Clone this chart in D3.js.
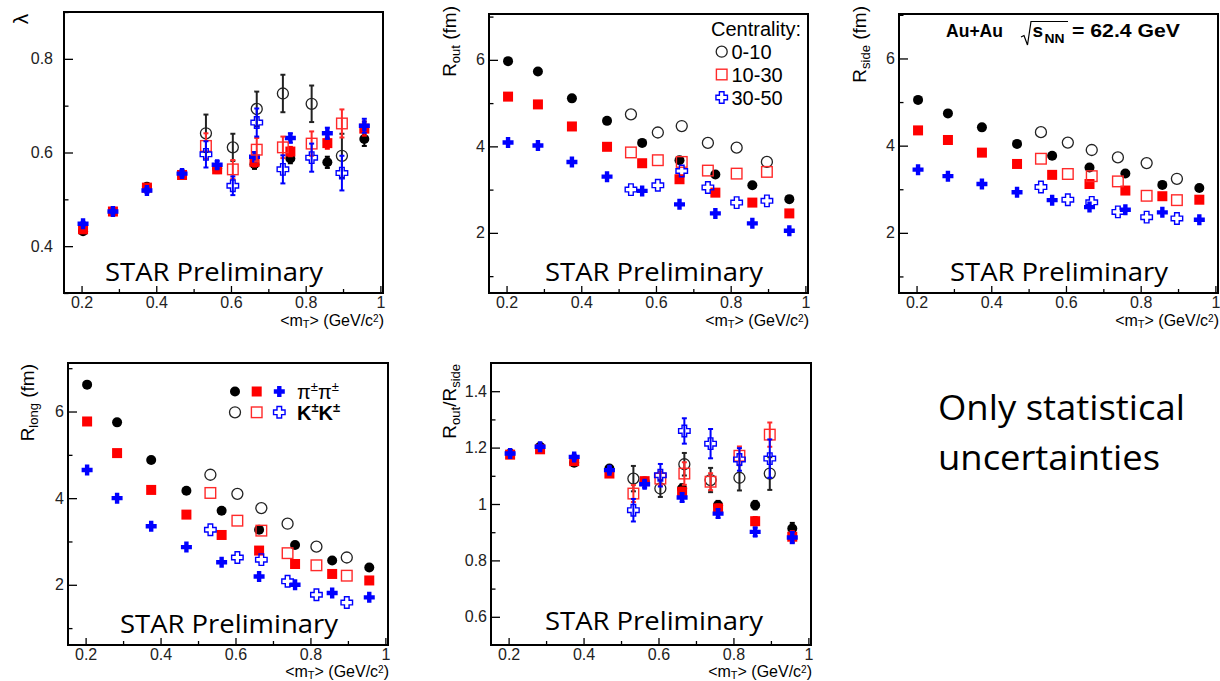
<!DOCTYPE html>
<html>
<head>
<meta charset="utf-8">
<script src="https://cdn.jsdelivr.net/npm/d3@7"></script>
<style>
    body { margin: 0; background: #fff; }
    svg { display: block; }
    .tick text { font-family: "Liberation Sans", Arial, sans-serif; font-size: 16px; fill: #222; }
    .tick line { stroke: #000; stroke-width: 1.3; }
    .root-text { font-family: "Liberation Sans", Arial, sans-serif; fill: #000; }
    .slide-text { font-family: "Open Sans", "Noto Sans", sans-serif; fill: #000; }
</style>
</head>
<body>
<svg id="chart" width="1220" height="681"></svg>
<script>
// <m_T> bins (GeV/c^2)
const mtPi = [0.204, 0.284, 0.375, 0.469, 0.563, 0.663, 0.759, 0.858, 0.957];
const mtK = [0.533, 0.605, 0.669, 0.739, 0.816, 0.897];

// lambda
const lamPi010 = [0.432, 0.474, 0.527, 0.554, 0.566, 0.575, 0.587, 0.579, 0.629];
const lamPi1030 = [0.436, 0.474, 0.525, 0.552, 0.564, 0.580, 0.602, 0.620, 0.651];
const lamPi3050 = [0.448, 0.474, 0.519, 0.555, 0.574, 0.591, 0.631, 0.641, 0.657];
const lamPiErr = [0.004, 0.004, 0.005, 0.006, 0.008, 0.010, 0.010, 0.012, 0.015];
const lamK010 = [0.641, 0.611, 0.693, 0.726, 0.704, 0.593];
const lamK1030 = [0.614, 0.564, 0.606, 0.611, 0.619, 0.662];
const lamK3050 = [0.596, 0.529, 0.664, 0.564, 0.589, 0.556];
const lamK010Err = [0.040, 0.029, 0.037, 0.040, 0.039, 0.047];
const lamK1030Err = [0.027, 0.020, 0.025, 0.023, 0.026, 0.030];
const lamK3050Err = [0.028, 0.020, 0.030, 0.030, 0.030, 0.037];

// R_out (fm)
const outPi010 = [5.97, 5.73, 5.11, 4.59, 4.08, 3.68, 3.35, 3.10, 2.78];
const outPi1030 = [5.15, 4.97, 4.46, 3.99, 3.61, 3.24, 2.93, 2.70, 2.45];
const outPi3050 = [4.09, 4.02, 3.64, 3.30, 2.97, 2.66, 2.45, 2.22, 2.05];
const outK010 = [4.74, 4.32, 4.47, 4.08, 3.97, 3.64];
const outK1030 = [3.86, 3.68, 3.64, 3.44, 3.37, 3.41];
const outK3050 = [3.00, 3.10, 3.43, 3.05, 2.70, 2.74];

// R_side (fm)
const sidePi010 = [5.05, 4.74, 4.42, 4.04, 3.77, 3.50, 3.36, 3.10, 3.03];
const sidePi1030 = [4.35, 4.13, 3.84, 3.58, 3.33, 3.12, 2.97, 2.84, 2.76];
const sidePi3050 = [3.45, 3.30, 3.12, 2.93, 2.75, 2.59, 2.53, 2.47, 2.30];
const sideK010 = [4.31, 4.07, 3.90, 3.73, 3.60, 3.24];
const sideK1030 = [3.70, 3.35, 3.30, 3.18, 2.85, 2.75];
const sideK3050 = [3.05, 2.76, 2.70, 2.48, 2.36, 2.33];

// R_long (fm)
const longPi010 = [6.62, 5.75, 4.88, 4.17, 3.71, 3.27, 2.92, 2.56, 2.40];
const longPi1030 = [5.77, 5.04, 4.19, 3.62, 3.15, 2.79, 2.48, 2.25, 2.10];
const longPi3050 = [4.65, 4.00, 3.35, 2.87, 2.52, 2.19, 2.00, 1.81, 1.71];
const longK010 = [4.54, 4.10, 3.77, 3.41, 2.88, 2.63];
const longK1030 = [4.12, 3.48, 3.25, 2.73, 2.45, 2.21];
const longK3050 = [3.27, 2.63, 2.58, 2.08, 1.77, 1.59];

// R_out / R_side
const ratioPi010 = [1.179, 1.203, 1.146, 1.126, 1.080, 1.055, 0.996, 0.996, 0.913];
const ratioPi1030 = [1.175, 1.194, 1.152, 1.108, 1.081, 1.043, 0.984, 0.939, 0.884];
const ratioPi3050 = [1.179, 1.203, 1.167, 1.120, 1.070, 1.023, 0.966, 0.901, 0.881];
const ratioPiErr = [0.006, 0.006, 0.008, 0.010, 0.012, 0.015, 0.015, 0.015, 0.020];
const ratioK010 = [1.090, 1.055, 1.141, 1.085, 1.093, 1.108];
const ratioK1030 = [1.037, 1.090, 1.108, 1.079, 1.171, 1.246];
const ratioK3050 = [0.978, 1.102, 1.259, 1.214, 1.158, 1.161];
const ratioK010Err = [0.045, 0.030, 0.040, 0.043, 0.045, 0.058];
const ratioK1030Err = [0.030, 0.025, 0.040, 0.030, 0.033, 0.043];
const ratioK3050Err = [0.040, 0.040, 0.045, 0.052, 0.040, 0.068];

const xMajor = [0.2, 0.4, 0.6, 0.8, 1];
const xMinor = [0.3, 0.5, 0.7, 0.9];

const colors = { fcircle: '#000', ocircle: '#222', fsquare: '#ff0000', osquare: '#ff2a2a', fcross: '#0000ff', ocross: '#0000ff' };

function makeSeries(p010, p1030, p3050, k010, k1030, k3050, ePi, eK010, eK1030, eK3050) {
    return [
        { x: mtPi, y: p010, e: ePi, m: 'fcircle' },
        { x: mtPi, y: p1030, e: ePi, m: 'fsquare' },
        { x: mtPi, y: p3050, e: ePi, m: 'fcross' },
        { x: mtK, y: k010, e: eK010, m: 'ocircle' },
        { x: mtK, y: k1030, e: eK1030, m: 'osquare' },
        { x: mtK, y: k3050, e: eK3050, m: 'ocross' }
    ];
}

const panels = [
    { left: 64, top: 12, right: 383, bottom: 293, yDomain: [0.3, 0.9],
      yMajor: [0.4, 0.6, 0.8], yMinor: [0.3, 0.5, 0.7, 0.9], pad: 11,
      series: makeSeries(lamPi010, lamPi1030, lamPi3050, lamK010, lamK1030, lamK3050,
                         lamPiErr, lamK010Err, lamK1030Err, lamK3050Err),
      star: [105, 281], title: 'lambda' },
    { left: 489, top: 14, right: 808, bottom: 293, yDomain: [0.61, 7.06],
      yMajor: [2, 4, 6], yMinor: [1, 3, 5, 7], pad: 4,
      series: makeSeries(outPi010, outPi1030, outPi3050, outK010, outK1030, outK3050),
      star: [545, 281], title: ['out', ' (fm)'], titlePos: [456, 6] },
    { left: 899, top: 14, right: 1218, bottom: 293, yDomain: [0.62, 7.02],
      yMajor: [2, 4, 6], yMinor: [1, 3, 5, 7], pad: 4,
      series: makeSeries(sidePi010, sidePi1030, sidePi3050, sideK010, sideK1030, sideK3050),
      star: [950, 281], title: ['side', ' (fm)'], titlePos: [866, 6] },
    { left: 68, top: 363, right: 388, bottom: 645, yDomain: [0.61, 7.12],
      yMajor: [2, 4, 6], yMinor: [1, 3, 5, 7], pad: 4,
      series: makeSeries(longPi010, longPi1030, longPi3050, longK010, longK1030, longK3050),
      star: [120, 633], title: ['long', ' (fm)'], titlePos: [34, 364] },
    { left: 491, top: 363, right: 811, bottom: 645, yDomain: [0.5, 1.5],
      yMajor: [0.6, 0.8, 1, 1.2, 1.4], yMinor: [0.7, 0.9, 1.1, 1.3], pad: 4,
      series: makeSeries(ratioPi010, ratioPi1030, ratioPi3050, ratioK010, ratioK1030, ratioK3050,
                         ratioPiErr, ratioK010Err, ratioK1030Err, ratioK3050Err),
      star: [545, 630], title: 'ratio', titlePos: [456, 364] }
];

const svg = d3.select('#chart');

// plus-shaped marker path
function plusPath(size, arm) {
    const h = size / 2, a = arm / 2;
    return `M${-a},${-h}L${a},${-h}L${a},${-a}L${h},${-a}L${h},${a}L${a},${a}L${a},${h}L${-a},${h}L${-a},${a}L${-h},${a}L${-h},${-a}L${-a},${-a}Z`;
}

function drawMarker(g, type, cx, cy) {
    const c = colors[type];
    if (type === 'fcircle') {
        g.append('circle').attr('cx', cx).attr('cy', cy).attr('r', 5).attr('fill', c);
    } else if (type === 'ocircle') {
        g.append('circle').attr('cx', cx).attr('cy', cy).attr('r', 5.5)
            .attr('fill', 'none').attr('stroke', c).attr('stroke-width', 1.3);
    } else if (type === 'fsquare') {
        g.append('rect').attr('x', cx - 5).attr('y', cy - 5).attr('width', 10).attr('height', 10).attr('fill', c);
    } else if (type === 'osquare') {
        g.append('rect').attr('x', cx - 5.3).attr('y', cy - 5.3).attr('width', 10.6).attr('height', 10.6)
            .attr('fill', 'none').attr('stroke', c).attr('stroke-width', 1.4);
    } else if (type === 'fcross') {
        g.append('path').attr('d', plusPath(11, 4.4)).attr('transform', `translate(${cx},${cy})`).attr('fill', c);
    } else if (type === 'ocross') {
        g.append('path').attr('d', plusPath(11.5, 4.6)).attr('transform', `translate(${cx},${cy})`)
            .attr('fill', 'none').attr('stroke', c).attr('stroke-width', 1.4);
    }
}

function drawPanel(p) {
    const x = d3.scaleLinear().domain([0.153, 1.007]).range([p.left, p.right]);
    const y = d3.scaleLinear().domain(p.yDomain).range([p.bottom, p.top]);
    const g = svg.append('g');

    // x axis: ticks point inward
    g.append('g').attr('transform', `translate(0,${p.bottom})`)
        .call(d3.axisBottom(x).tickValues(xMajor).tickSize(-7).tickPadding(4).tickFormat(d => String(d)))
        .call(a => a.select('.domain').remove());
    g.append('g').attr('transform', `translate(0,${p.bottom})`)
        .call(d3.axisBottom(x).tickValues(xMinor).tickSize(-4).tickFormat(''))
        .call(a => a.select('.domain').remove());

    // y axis
    g.append('g').attr('transform', `translate(${p.left},0)`)
        .call(d3.axisLeft(y).tickValues(p.yMajor).tickSize(-9).tickPadding(p.pad).tickFormat(d => String(d)))
        .call(a => a.select('.domain').remove());
    g.append('g').attr('transform', `translate(${p.left},0)`)
        .call(d3.axisLeft(y).tickValues(p.yMinor.filter(v => v >= p.yDomain[0] && v <= p.yDomain[1])).tickSize(-4.5).tickFormat(''))
        .call(a => a.select('.domain').remove());

    // data
    p.series.forEach(s => {
        const c = colors[s.m];
        s.x.forEach((xv, i) => {
            const cx = x(xv), cy = y(s.y[i]);
            if (s.e) {
                const y1 = y(s.y[i] + s.e[i]), y2 = y(s.y[i] - s.e[i]);
                g.append('line').attr('x1', cx).attr('x2', cx).attr('y1', y1).attr('y2', y2)
                    .attr('stroke', c).attr('stroke-width', 2);
                [y1, y2].forEach(yy => g.append('line').attr('x1', cx - 2.5).attr('x2', cx + 2.5)
                    .attr('y1', yy).attr('y2', yy).attr('stroke', c).attr('stroke-width', 2));
            }
            drawMarker(g, s.m, cx, cy);
        });
    });

    // frame
    g.append('rect').attr('x', p.left).attr('y', p.top)
        .attr('width', p.right - p.left).attr('height', p.bottom - p.top)
        .attr('fill', 'none').attr('stroke', '#000').attr('stroke-width', 2);

    // x title
    const xt = g.append('text').attr('class', 'root-text').attr('font-size', 16)
        .attr('text-anchor', 'end').attr('x', p.right + 1).attr('y', Math.min(p.bottom + 33, 677));
    xt.append('tspan').text('<m');
    xt.append('tspan').attr('font-size', 11).attr('dy', 2).text('T');
    xt.append('tspan').attr('dy', -2).text('> (GeV/c');
    xt.append('tspan').attr('font-size', 10).attr('dy', -4).text('2');
    xt.append('tspan').attr('dy', 4).text(')');

    // y title
    if (p.title === 'lambda') {
        g.append('text').attr('class', 'root-text').attr('font-size', 21)
            .attr('font-family', '"Liberation Serif", serif')
            .attr('text-anchor', 'middle')
            .attr('transform', 'translate(28,19) rotate(-90)').text('λ');
    } else {
        const t = g.append('text').attr('class', 'root-text').attr('font-size', 19)
            .attr('text-anchor', 'end')
            .attr('transform', `translate(${p.titlePos[0]},${p.titlePos[1]}) rotate(-90)`);
        if (p.title === 'ratio') {
            t.append('tspan').text('R');
            t.append('tspan').attr('font-size', 13).attr('dy', 4).text('out');
            t.append('tspan').attr('dy', -4).text('/R');
            t.append('tspan').attr('font-size', 13).attr('dy', 4).text('side');
        } else {
            t.append('tspan').text('R');
            t.append('tspan').attr('font-size', 13).attr('dy', 4).text(p.title[0]);
            t.append('tspan').attr('dy', -4).text(p.title[1]);
        }
    }

    // preliminary tag
    svg.append('text').attr('class', 'slide-text').attr('font-size', 26)
        .attr('x', p.star[0]).attr('y', p.star[1])
        .attr('textLength', 218).attr('lengthAdjust', 'spacingAndGlyphs')
        .text('STAR Preliminary');
}

panels.forEach(drawPanel);

// centrality legend (panel 2)
const leg = svg.append('g');
leg.append('text').attr('class', 'root-text').attr('font-size', 20)
    .attr('x', 711).attr('y', 35.5).text('Centrality:');
const centLabels = ['0-10', '10-30', '30-50'];
const centMarkers = ['ocircle', 'osquare', 'ocross'];
const centRows = [51.7, 74.5, 97.5];
centLabels.forEach((lab, i) => {
    drawMarker(leg, centMarkers[i], 721.7, centRows[i]);
    leg.append('text').attr('class', 'root-text').attr('font-size', 20)
        .attr('x', 731.5).attr('y', centRows[i] + 7).text(lab);
});

// particle legend (panel 4)
const pleg = svg.append('g');
const legX = [235, 256.7, 279.3];
['fcircle', 'fsquare', 'fcross'].forEach((m, i) => drawMarker(pleg, m, legX[i], 391.5));
['ocircle', 'osquare', 'ocross'].forEach((m, i) => drawMarker(pleg, m, legX[i], 412.3));
const piText = pleg.append('text').attr('class', 'root-text').attr('font-size', 20)
    .attr('font-family', '"Liberation Serif", serif').attr('x', 297).attr('y', 398.5);
piText.append('tspan').text('π');
piText.append('tspan').attr('font-size', 13).attr('dy', -8).text('±');
piText.append('tspan').attr('dy', 8).text('π');
piText.append('tspan').attr('font-size', 13).attr('dy', -8).text('±');
const kText = pleg.append('text').attr('class', 'root-text').attr('font-size', 20)
    .attr('font-weight', 'bold').attr('x', 297).attr('y', 420);
kText.append('tspan').text('K');
kText.append('tspan').attr('font-size', 13).attr('dy', -8).text('±');
kText.append('tspan').attr('dy', 8).text('K');
kText.append('tspan').attr('font-size', 13).attr('dy', -8).text('±');

// collision system label (panel 3)
const sys = svg.append('g').attr('class', 'root-text').attr('font-weight', 'bold');
sys.append('text').attr('x', 946).attr('y', 37).attr('font-size', 19)
    .attr('textLength', 57).attr('lengthAdjust', 'spacingAndGlyphs').text('Au+Au');
sys.append('path').attr('d', 'M1021,37L1024,35.5L1027.5,45L1031,21.5L1068,21.5')
    .attr('fill', 'none').attr('stroke', '#000').attr('stroke-width', 1.2);
sys.append('text').attr('x', 1032.5).attr('y', 37).attr('font-size', 19).text('s');
sys.append('text').attr('x', 1044.5).attr('y', 43).attr('font-size', 13)
    .attr('textLength', 20).attr('lengthAdjust', 'spacingAndGlyphs').text('NN');
sys.append('text').attr('x', 1072).attr('y', 37).attr('font-size', 19)
    .attr('textLength', 108).attr('lengthAdjust', 'spacingAndGlyphs').text('= 62.4 GeV');

// note
svg.append('text').attr('class', 'slide-text').attr('font-size', 35)
    .attr('x', 938).attr('y', 420).attr('textLength', 247).attr('lengthAdjust', 'spacingAndGlyphs')
    .text('Only statistical');
svg.append('text').attr('class', 'slide-text').attr('font-size', 35)
    .attr('x', 938).attr('y', 470).attr('textLength', 222).attr('lengthAdjust', 'spacingAndGlyphs')
    .text('uncertainties');
</script>
</body>
</html>
